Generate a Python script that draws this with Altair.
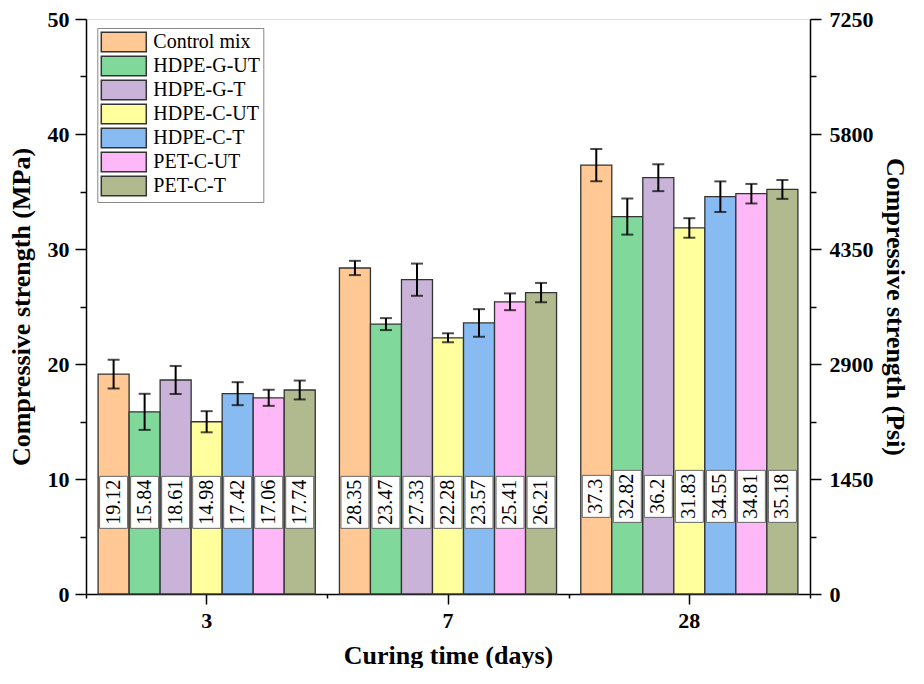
import altair as alt
import pandas as pd

days = ["3", "7", "28"]
mixes = ["Control mix", "HDPE-G-UT", "HDPE-G-T", "HDPE-C-UT", "HDPE-C-T", "PET-C-UT", "PET-C-T"]
colors = ["#FFC895", "#80D99B", "#C9B3D9", "#FFFF9E", "#88BBF2", "#FFB8F7", "#B1B98F"]

control_mix = [19.12, 28.35, 37.3]
hdpe_g_ut = [15.84, 23.47, 32.82]
hdpe_g_t = [18.61, 27.33, 36.2]
hdpe_c_ut = [14.98, 22.28, 31.83]
hdpe_c_t = [17.42, 23.57, 34.55]
pet_c_ut = [17.06, 25.41, 34.81]
pet_c_t = [17.74, 26.21, 35.18]

control_mix_err = [1.25, 0.62, 1.40]
hdpe_g_ut_err = [1.57, 0.52, 1.57]
hdpe_g_t_err = [1.22, 1.40, 1.17]
hdpe_c_ut_err = [0.92, 0.39, 0.85]
hdpe_c_t_err = [1.00, 1.20, 1.33]
pet_c_ut_err = [0.70, 0.73, 0.85]
pet_c_t_err = [0.82, 0.84, 0.82]

series_values = [control_mix, hdpe_g_ut, hdpe_g_t, hdpe_c_ut, hdpe_c_t, pet_c_ut, pet_c_t]
series_errors = [control_mix_err, hdpe_g_ut_err, hdpe_g_t_err, hdpe_c_ut_err,
                 hdpe_c_t_err, pet_c_ut_err, pet_c_t_err]

MPA_TO_PSI = 145
W, H = 724, 575
PX_PER_MPA = H / 50.0
label_center = {"3": 7.97, "7": 7.97, "28": 8.49}
LABEL_FS = 20

rows = []
for mix, vals, errs in zip(mixes, series_values, series_errors):
    for d, v, e in zip(days, vals, errs):
        lab = str(v)
        box_px = LABEL_FS * (0.5 * (len(lab) - 1) + 0.25) + 7
        half = box_px / 2 / PX_PER_MPA
        c = label_center[d]
        rows.append(dict(day=d, mix=mix, value=v, lo=v - e, hi=v + e, label=lab,
                         lpos=c, box_lo=c - half, box_hi=c + half, psi=v * MPA_TO_PSI))
df = pd.DataFrame(rows)

FONT = "Liberation Serif"
xscale = alt.Scale(paddingInner=0, paddingOuter=0)
oscale = alt.Scale(paddingInner=0, paddingOuter=0.39)
yscale = alt.Scale(domain=[0, 50], nice=False, zero=True)

common = dict(domainColor="black", tickColor="black", domainWidth=1.5, tickWidth=1.5,
              labelFontSize=22, labelFontWeight="bold", titleFontSize=26,
              titleFontWeight="bold", labelFont=FONT, titleFont=FONT,
              labelColor="black", titleColor="black")

xaxis = alt.Axis(title="Curing time (days)", labelAngle=0, tickSize=10,
                 labelPadding=6, titlePadding=11, **common)
yaxis = alt.Axis(title="Compressive strength (MPa)",
                 values=[0, 5, 10, 15, 20, 25, 30, 35, 40, 45, 50],
                 labelExpr="datum.value % 10 === 0 ? datum.label : ''",
                 tickSize={"condition": {"test": "datum.value % 10 === 0", "value": 11}, "value": 6},
                 labelPadding=6, titlePadding=13, grid=False, **common)

xenc = alt.X("day:N", sort=days, scale=xscale, axis=xaxis)
xoff = alt.XOffset("mix:N", sort=mixes, scale=oscale)


def yenc(field):
    return alt.Y(field, scale=yscale, axis=yaxis)


base = alt.Chart(df)

bars = base.mark_bar(stroke="#333333", strokeWidth=1.3).encode(
    x=xenc,
    xOffset=xoff,
    y=yenc("value:Q"),
    color=alt.Color("mix:N", sort=mixes, scale=alt.Scale(domain=mixes, range=colors),
                    legend=alt.Legend(title=None, orient="none", legendX=11.3, legendY=9,
                                      symbolType="M-2.25,-0.975H2.25V0.975H-2.25Z", symbolSize=400,
                                      symbolOffset=12.5,
                                      symbolStrokeColor="#333333", symbolStrokeWidth=1.5,
                                      symbolOpacity=1, labelFont=FONT, labelFontSize=20,
                                      labelColor="black", labelOffset=18.5, rowPadding=-2,
                                      padding=3, strokeColor="#888888", fillColor="white")),
)

err_rule = base.mark_rule(color="black", strokeWidth=2).encode(
    x=xenc, xOffset=xoff, y=yenc("lo:Q"), y2="hi:Q")
cap_lo = base.mark_tick(color="black", thickness=2, size=12).encode(
    x=xenc, xOffset=xoff, y=yenc("lo:Q"))
cap_hi = base.mark_tick(color="black", thickness=2, size=12).encode(
    x=xenc, xOffset=xoff, y=yenc("hi:Q"))

boxes = base.mark_bar(width=28, fill="white", stroke="#666666", strokeWidth=1).encode(
    x=xenc, xOffset=xoff, y=yenc("box_lo:Q"), y2="box_hi:Q")
texts = base.mark_text(angle=270, font=FONT, fontSize=LABEL_FS, color="black",
                       align="center", baseline="middle").encode(
    x=xenc, xOffset=xoff, y=yenc("lpos:Q"), text="label:N")

inner = alt.layer(bars, err_rule, cap_lo, cap_hi, boxes, texts)

psi_layer = base.mark_point(opacity=0).encode(
    x=alt.X("day:N", sort=days, scale=xscale,
            axis=alt.Axis(orient="bottom", tickBand="extent", labels=False, title=None,
                          domain=False, tickSize=4, tickColor="black", tickWidth=1.5)),
    y=alt.Y("psi:Q", scale=alt.Scale(domain=[0, 7250], nice=False, zero=True),
            axis=alt.Axis(orient="right", title="Compressive strength (Psi)",
                          values=[0, 725, 1450, 2175, 2900, 3625, 4350, 5075, 5800, 6525, 7250],
                          labelExpr="datum.value % 1450 === 0 ? datum.label : ''",
                          format="d",
                          tickSize={"condition": {"test": "datum.value % 1450 === 0", "value": 11}, "value": 6},
                          labelPadding=8, titlePadding=8, grid=False, **common)),
)

chart = alt.layer(inner, psi_layer).resolve_scale(y="independent").resolve_axis(
    x="independent").properties(
    width=W, height=H,
    padding={"left": 0, "top": 0, "right": 5, "bottom": 0}
).configure_view(stroke="black", strokeWidth=1.5).configure(background="white")

chart.save("out.html", embed_options={"renderer": "svg", "actions": False})
